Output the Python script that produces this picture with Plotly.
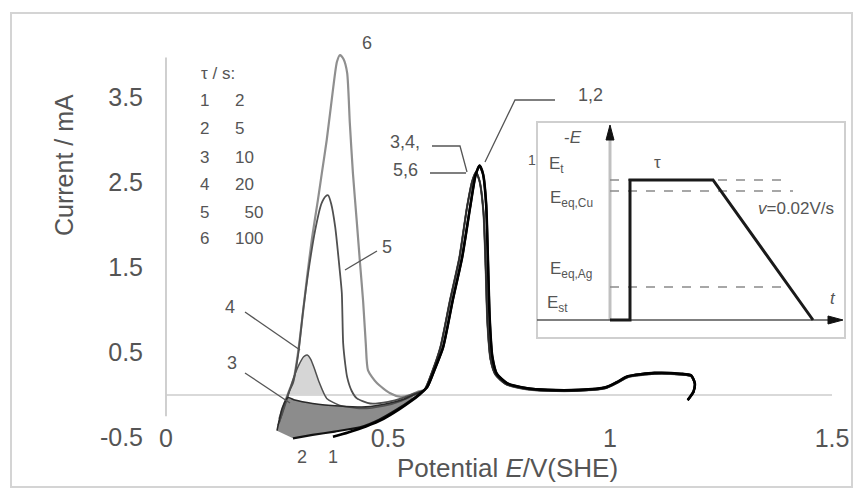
import plotly.graph_objects as go

W, H = 856, 492
FONT = "Liberation Sans, Arial, sans-serif"
TXT = "#555555"

# ---------------- data (E / V(SHE), I / mA) ----------------
# common Ag-stripping branch of curves 1,2
AG12_E = [0.588, 0.605, 0.624, 0.646, 0.667, 0.685, 0.697, 0.706, 0.714, 0.721, 0.725, 0.729, 0.735, 0.745,
          0.768, 0.813, 0.86, 0.93, 0.99, 1.015, 1.04, 1.10, 1.16, 1.183, 1.191, 1.188, 1.175]
AG12_I = [0.09, 0.30, 0.56, 1.12, 1.62, 2.21, 2.58, 2.70, 2.60, 2.25, 1.60, 0.90, 0.45, 0.25,
          0.14, 0.08, 0.06, 0.06, 0.09, 0.15, 0.22, 0.26, 0.25, 0.23, 0.14, 0.04, -0.06]
# common Ag-stripping branch of curves 3-6
AG36_E = [0.582, 0.600, 0.618, 0.640, 0.661, 0.678, 0.690, 0.698, 0.706, 0.715, 0.720, 0.724, 0.731, 0.742,
          0.765, 0.81, 0.86, 0.93, 0.99, 1.015, 1.04, 1.10, 1.16, 1.183, 1.191, 1.188, 1.175]
AG36_I = [0.06, 0.28, 0.56, 1.12, 1.62, 2.21, 2.52, 2.62, 2.52, 2.15, 1.50, 0.85, 0.42, 0.24,
          0.13, 0.07, 0.05, 0.05, 0.08, 0.14, 0.21, 0.25, 0.24, 0.22, 0.13, 0.03, -0.06]

# low-potential parts (Cu stripping) of each curve
C1_E = [0.376, 0.41, 0.45, 0.49, 0.525, 0.55, 0.572]
C1_I = [-0.49, -0.44, -0.37, -0.28, -0.17, -0.08, 0.01]
C2_E = [0.286, 0.33, 0.38, 0.437, 0.48, 0.52, 0.552]
C2_I = [-0.51, -0.47, -0.43, -0.38, -0.29, -0.17, -0.06]
C3_E = [0.250, 0.262, 0.275, 0.29, 0.33, 0.39, 0.45, 0.50, 0.535, 0.56]
C3_I = [-0.42, -0.15, -0.03, -0.06, -0.10, -0.13, -0.14, -0.10, -0.05, 0.01]
C4_E = [0.252, 0.262, 0.272, 0.286, 0.298, 0.310, 0.318, 0.326, 0.335, 0.345, 0.362, 0.39, 0.44, 0.49, 0.53, 0.555]
C4_I = [-0.36, -0.22, -0.06, 0.18, 0.34, 0.45, 0.47, 0.42, 0.30, 0.15, -0.04, -0.12, -0.16, -0.13, -0.07, -0.01]
C5_E = [0.255, 0.268, 0.278, 0.286, 0.298, 0.309, 0.320, 0.336, 0.350, 0.360, 0.365, 0.372, 0.381, 0.392,
        0.396, 0.399, 0.404, 0.408, 0.418, 0.43, 0.46, 0.50, 0.535, 0.56]
C5_I = [-0.32, -0.10, 0.05, 0.14, 0.49, 1.00, 1.43, 1.94, 2.25, 2.34, 2.35, 2.25, 1.98, 1.43,
        1.20, 0.61, 0.35, 0.21, 0.05, -0.04, -0.10, -0.08, -0.03, 0.02]
C6_E = [0.255, 0.268, 0.278, 0.288, 0.298, 0.308, 0.318, 0.329, 0.342, 0.351, 0.362, 0.376, 0.385, 0.392,
        0.400, 0.408, 0.414, 0.421, 0.430, 0.437, 0.444, 0.450, 0.455, 0.475, 0.505, 0.527, 0.55, 0.568]
C6_I = [-0.28, -0.08, 0.06, 0.20, 0.52, 0.95, 1.40, 1.85, 2.29, 2.61, 3.00, 3.59, 3.92, 4.00,
        3.95, 3.79, 3.20, 2.61, 2.02, 1.55, 1.10, 0.60, 0.29, 0.14, 0.02, -0.02, 0.00, 0.04]

TAU_LABELS = ["1", "2", "3", "4", "5", "6"]
TAU_VALUES = ["2", "5", "10", "20", " 50", "100"]

X_TICKS = [0, 0.5, 1, 1.5]
X_TICKTEXT = ["0", "0.5", "1", "1.5"]
Y_TICKS = [-0.5, 0.5, 1.5, 2.5, 3.5]
Y_TICKTEXT = ["-0.5", "0.5", "1.5", "2.5", "3.5"]

# pixel calibration of the reference: E=0 at x=166 px, 444 px per V; I=0 at y=395 px, 85 px per mA
X0, SX = 166, 444
Y0, SY = 395, 85
XR = [(0 - X0) / SX, (W - X0) / SX]
YR = [(Y0 - H) / SY, Y0 / SY]


def P(px, py):
    return px / W, 1 - py / H


def D(px, py):
    return (px - X0) / SX, (Y0 - py) / SY


fig = go.Figure()

# dark wedge between curves 2 and 3 at the start of the sweep
fig.add_trace(go.Scatter(x=C2_E, y=C2_I, mode="lines", line=dict(width=0, color="rgba(0,0,0,0)"),
                         hoverinfo="skip", showlegend=False))
fig.add_trace(go.Scatter(x=C3_E, y=C3_I, mode="lines", line=dict(width=0, color="rgba(0,0,0,0)"),
                         fill="tonexty", fillcolor="rgba(45,45,45,0.55)", hoverinfo="skip", showlegend=False))
# light grey fill under peak 4
fig.add_trace(go.Scatter(x=C4_E[2:11], y=C4_I[2:11], mode="lines", line=dict(width=0, color="rgba(0,0,0,0)"),
                         fill="tozeroy", fillcolor="#d6d6d6", hoverinfo="skip", showlegend=False))

curves = [
    (C6_E + AG36_E, C6_I + AG36_I, "#8f8f8f", 2.2),
    (C5_E + AG36_E, C5_I + AG36_I, "#505050", 1.8),
    (C4_E + AG36_E, C4_I + AG36_I, "#505050", 1.5),
    (C3_E + AG36_E, C3_I + AG36_I, "#2a2a2a", 1.6),
    (C2_E + AG12_E, C2_I + AG12_I, "#111111", 2.2),
    (C1_E + AG12_E, C1_I + AG12_I, "#000000", 2.6),
]
for (xe, yi, col, w) in curves:
    fig.add_trace(go.Scatter(x=xe, y=yi, mode="lines",
                             line=dict(color=col, width=w, shape="spline", smoothing=0.6),
                             hoverinfo="skip", showlegend=False))

shapes = []
# outer frame
x0p, y0p = P(11, 13)
x1p, y1p = P(852, 487)
shapes.append(dict(type="rect", xref="paper", yref="paper", x0=x0p, y0=y1p, x1=x1p, y1=y0p,
                   line=dict(color="#d4d4d4", width=2), layer="below"))
# axis lines
shapes.append(dict(type="line", xref="x", yref="y", x0=0, y0=-0.25, x1=0, y1=3.97,
                   line=dict(color="#c4c4c4", width=1.6), layer="below"))
shapes.append(dict(type="line", xref="x", yref="y", x0=0, y0=0, x1=1.5, y1=0,
                   line=dict(color="#cccccc", width=1.6), layer="below"))


# leader lines
def leader(pts):
    d = "M " + " L ".join("%f,%f" % D(px, py) for px, py in pts)
    return dict(type="path", xref="x", yref="y", path=d, line=dict(color="#555555", width=1.3))


shapes.append(leader([(377, 251), (345, 270)]))          # 5
shapes.append(leader([(245, 312), (300, 350)]))          # 4
shapes.append(leader([(245, 373), (290, 403)]))          # 3
shapes.append(leader([(555, 100), (515, 100), (485, 162)]))   # 1,2
shapes.append(leader([(432, 146), (460, 146), (467, 172)]))   # 3,4,
shapes.append(leader([(430, 173), (466, 173)]))          # 5,6

# ---------------- inset (potential programme) ----------------
ix0, iy0 = P(537, 122)
ix1, iy1 = P(845, 338)
shapes.append(dict(type="rect", xref="paper", yref="paper", x0=ix0, y0=iy1, x1=ix1, y1=iy0,
                   line=dict(color="#cfcfcf", width=2), fillcolor="white"))


def pline(p1, p2, color, width, dash="solid"):
    a = P(*p1)
    b = P(*p2)
    return dict(type="line", xref="paper", yref="paper", x0=a[0], y0=a[1], x1=b[0], y1=b[1],
                line=dict(color=color, width=width, dash=dash))


def ppath(pts, color, width=0, fill=None):
    d = "M " + " L ".join("%f,%f" % P(px, py) for px, py in pts)
    if fill:
        d += " Z"
    s = dict(type="path", xref="paper", yref="paper", path=d,
             line=dict(color=color, width=width))
    if fill:
        s["fillcolor"] = fill
    return s


shapes.append(pline((610, 320), (610, 134), "#c0c0c0", 3))
shapes.append(pline((537, 320), (832, 320), "#555555", 1.5))
shapes.append(pline((610, 180), (790, 180), "#8a8a8a", 1.3, "dash"))
shapes.append(pline((610, 191), (793, 191), "#8a8a8a", 1.3, "dash"))
shapes.append(pline((610, 287), (790, 287), "#8a8a8a", 1.3, "dash"))
shapes.append(ppath([(610, 320), (630, 320), (630, 180), (713, 180), (813, 320)], "#1a1a1a", 3))
# arrowheads
shapes.append(ppath([(606, 140), (610, 125), (614, 140)], "#111111", 1, fill="#111111"))
shapes.append(ppath([(828, 316), (843, 320), (828, 324)], "#111111", 1, fill="#111111"))

ann = []


def text(px, py, s, size=17, color=TXT, xanchor="center"):
    xp, yp = P(px, py)
    ann.append(dict(xref="paper", yref="paper", x=xp, y=yp, text=s, showarrow=False,
                    xanchor=xanchor, yanchor="middle", font=dict(family=FONT, size=size, color=color)))


text(573, 137, "-<i>E</i>", 17)
text(532, 160, "1", 14)
text(556, 165, "E<sub>t</sub>", 17)
text(571, 199, "E<sub>eq,Cu</sub>", 17)
text(571, 270, "E<sub>eq,Ag</sub>", 17)
text(557, 304, "E<sub>st</sub>", 17)
text(657, 162, "τ", 17)
text(796, 208, "<i>v</i>=0.02V/s", 17)
text(833, 298, "<i>t</i>", 17)

# legend block
text(199, 73, "τ / s:", 17, xanchor="left")
rows_y = [100, 128, 157, 185, 212, 238]
for lab, val, ry in zip(TAU_LABELS, TAU_VALUES, rows_y):
    text(198, ry, lab, 17, xanchor="left")
    text(233, ry, val.replace(" ", "&nbsp;&nbsp;"), 17, xanchor="left")

# curve labels
text(367, 43, "6", 18)
text(387, 247, "5", 18)
text(230, 307, "4", 18)
text(232, 363, "3", 18)
text(302, 457, "2", 18)
text(333, 457, "1", 18)
text(405, 142, "3,4,", 18)
text(405, 170, "5,6", 18)
text(590, 95, "1,2", 18)

# axis titles
xp, yp = P(64, 165)
ann.append(dict(xref="paper", yref="paper", x=xp, y=yp, text="Current / mA", showarrow=False,
                textangle=-90, xanchor="center", yanchor="middle",
                font=dict(family=FONT, size=25, color=TXT)))
text(507, 468, "Potential <i>E</i>/V(SHE)", 26)

fig.update_layout(
    width=W, height=H, margin=dict(l=0, r=0, t=0, b=0),
    paper_bgcolor="white", plot_bgcolor="white",
    shapes=shapes, annotations=ann, showlegend=False,
    xaxis=dict(range=XR, showgrid=False, zeroline=False, showline=False,
               tickvals=X_TICKS, ticktext=X_TICKTEXT, ticks="", anchor="free",
               position=1 - 421 / H, automargin=False,
               tickfont=dict(family=FONT, size=25, color=TXT)),
    yaxis=dict(range=YR, showgrid=False, zeroline=False, showline=False,
               tickvals=Y_TICKS, ticktext=Y_TICKTEXT, ticks="", anchor="free",
               position=X0 / W, automargin=False, ticklabelstandoff=23,
               tickfont=dict(family=FONT, size=25, color=TXT)),
)

fig.write_html("out.html")
